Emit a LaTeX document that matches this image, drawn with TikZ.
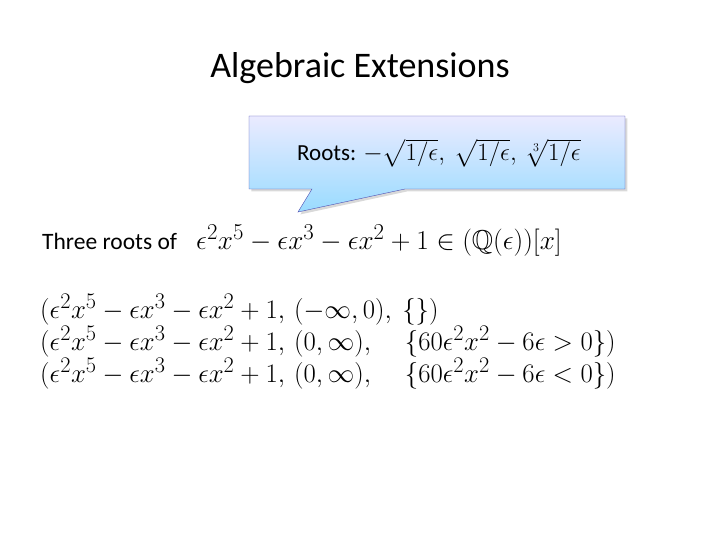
\documentclass[tikz,border=0pt]{standalone}
\usepackage{amssymb}
\usepackage{fontspec}
\setmainfont{Carlito}
\usetikzlibrary{shadows}
\begin{document}
\begin{tikzpicture}[x=1pt,y=-1pt,
  txt/.style={inner sep=0pt,anchor=west},
  mth/.style={inner sep=0pt,anchor=west,scale=1.075,transform shape}]
\useasboundingbox (0,0) rectangle (720,540);
\node[inner sep=0pt] (title) at (360,68) {\fontsize{36}{40}\selectfont Algebraic Extensions};
\shade[top color=blue!8,bottom color=blue!35!cyan!40,draw=blue!40!gray,drop shadow={opacity=0.3}]
  (249,116) -- (625,116) -- (625,189) -- (405,189) -- (298,212) -- (312,189) -- (249,189) -- cycle;
\node[txt] (roots) at (297,153) {\fontsize{23}{26}\selectfont Roots: $-\sqrt{1/\epsilon},\ \sqrt{1/\epsilon},\ \sqrt[3]{1/\epsilon}$};
\node[txt] (three) at (42,241) {\fontsize{23.5}{26}\selectfont Three roots of};
\node[mth,scale=1.02] (poly) at (196,241) {\fontsize{24.88}{28}\selectfont $\epsilon^2x^5-\epsilon x^3-\epsilon x^2+1\in(\mathbb{Q}(\epsilon))[x]$};
\node[mth] (l1) at (40,310) {\fontsize{24.88}{28}\selectfont $(\epsilon^2x^5-\epsilon x^3-\epsilon x^2+1,\,(-\infty,0),\ \{\})$};
\node[mth] (l2) at (40,342) {\fontsize{24.88}{28}\selectfont $(\epsilon^2x^5-\epsilon x^3-\epsilon x^2+1,\,(0,\infty),\hspace{1.1em}\{60\epsilon^2x^2-6\epsilon>0\})$};
\node[mth] (l3) at (40,374) {\fontsize{24.88}{28}\selectfont $(\epsilon^2x^5-\epsilon x^3-\epsilon x^2+1,\,(0,\infty),\hspace{1.1em}\{60\epsilon^2x^2-6\epsilon<0\})$};
\end{tikzpicture}
\end{document}
